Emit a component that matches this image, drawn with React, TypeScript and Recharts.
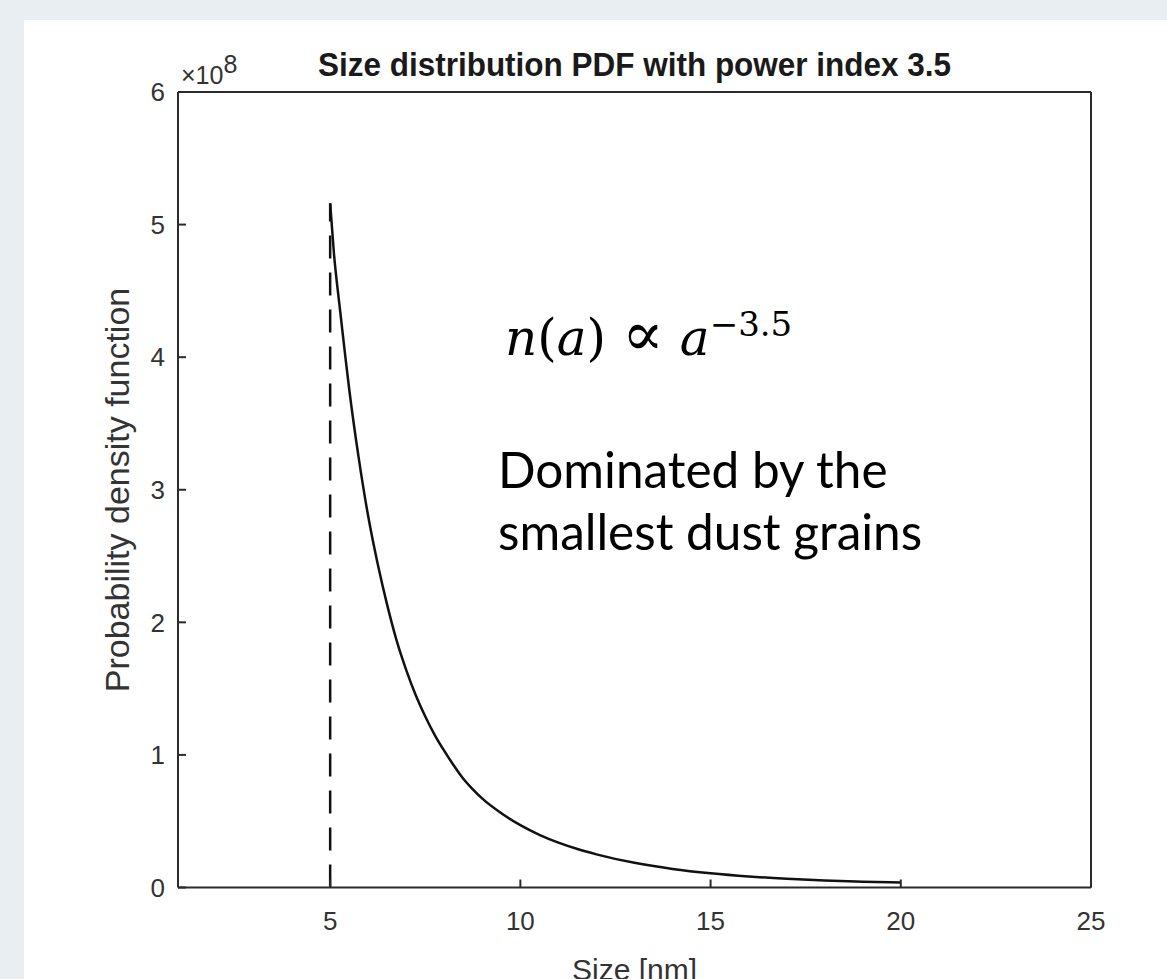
import { ComposedChart, Line, XAxis, YAxis, ReferenceLine } from "recharts";

// grain size [nm] and PDF value (in units of 1e8)
const sizes = [
  5, 5.1, 5.25, 5.4, 5.5, 5.75, 6, 6.25, 6.5, 6.75, 7, 7.25, 7.5, 7.75, 8, 8.25, 8.5, 8.75, 9, 9.5, 10, 10.5, 11, 11.5,
  12, 13, 14, 15, 16, 17, 18, 19, 20,
];
const pdf = [
  5.16, 4.78, 4.38, 4.0, 3.76, 3.24, 2.8, 2.44, 2.13, 1.86, 1.64, 1.45, 1.29, 1.15, 1.03, 0.92, 0.82, 0.74, 0.67, 0.56,
  0.47, 0.397, 0.338, 0.29, 0.25, 0.186, 0.14, 0.107, 0.083, 0.066, 0.053, 0.044, 0.037,
];

const xTicks = [5, 10, 15, 20, 25];
const yTicks = [0, 1, 2, 3, 4, 5, 6];
const xDomain = [1, 25];
const yDomain = [0, 6];
const lowerCutoff = 5;

const data = sizes.map((size, i) => ({ size, pdf: pdf[i] }));

const AXIS = "#2b2b2b";
const LABEL = "#333333";
const tickFont = { fill: LABEL, fontSize: 26, fontFamily: "Liberation Sans, Arial, sans-serif" };

export default function App() {
  return (
    <div
      style={{
        position: "absolute",
        left: 0,
        top: 0,
        width: 1167,
        height: 979,
        background: "#e8eef1",
        overflow: "hidden",
      }}
    >
      <div style={{ position: "absolute", left: 24, top: 20, width: 1143, height: 959, background: "#fff" }}>
        <ComposedChart width={1143} height={959} data={data} margin={{ top: 71, right: 75, bottom: 41.5, left: 94 }}>
          <XAxis
            dataKey="size"
            type="number"
            domain={xDomain}
            ticks={xTicks}
            allowDataOverflow
            height={50}
            tickSize={-8}
            tickMargin={32}
            stroke={AXIS}
            strokeWidth={2}
            tick={tickFont}
          />
          <XAxis
            xAxisId="top"
            orientation="top"
            type="number"
            domain={xDomain}
            ticks={xTicks}
            allowDataOverflow
            height={1}
            tickSize={-8}
            tick={false}
            stroke={AXIS}
            strokeWidth={2}
          />
          <YAxis
            type="number"
            domain={yDomain}
            ticks={yTicks}
            allowDataOverflow
            width={60}
            tickSize={-8}
            tickMargin={21}
            stroke={AXIS}
            strokeWidth={2}
            tick={tickFont}
          />
          <YAxis
            yAxisId="right"
            orientation="right"
            type="number"
            domain={yDomain}
            ticks={yTicks}
            allowDataOverflow
            width={1}
            tickSize={-8}
            tick={false}
            stroke={AXIS}
            strokeWidth={2}
          />
          <ReferenceLine
            segment={[
              { x: lowerCutoff, y: 0 },
              { x: lowerCutoff, y: pdf[0] },
            ]}
            stroke="#111"
            strokeWidth={2.5}
            strokeDasharray="23 14"
          />
          <Line
            dataKey="pdf"
            type="monotone"
            stroke="#111"
            strokeWidth={2.5}
            dot={false}
            activeDot={false}
            isAnimationActive={false}
          />
        </ComposedChart>
      </div>

      {/* titles and annotations, page coordinates */}
      <svg width={1167} height={979} style={{ position: "absolute", left: 0, top: 0, pointerEvents: "none" }}>
        <text
          x={318}
          y={76}
          textLength={633}
          lengthAdjust="spacingAndGlyphs"
          fontFamily="Liberation Sans, Arial, sans-serif"
          fontWeight="bold"
          fontSize={34}
          fill="#1a1a1a"
        >
          Size distribution PDF with power index 3.5
        </text>
        <text x={181} y={84} fontFamily="Liberation Sans, Arial, sans-serif" fontSize={25} fill={LABEL}>
          ×10
          <tspan dy={-11}>8</tspan>
        </text>
        <text
          transform="translate(129 490) rotate(-90)"
          textAnchor="middle"
          fontFamily="Liberation Sans, Arial, sans-serif"
          fontSize={34}
          fill={LABEL}
        >
          Probability density function
        </text>
        <text
          x={634.5}
          y={980}
          textAnchor="middle"
          fontFamily="Liberation Sans, Arial, sans-serif"
          fontSize={30}
          fill={LABEL}
        >
          Size [nm]
        </text>
        <text x={505} y={355} fontFamily="DejaVu Serif, serif" fontSize={50} fill="#000">
          <tspan fontStyle="italic">n</tspan>(<tspan fontStyle="italic">a</tspan>){" "}
          <tspan fontSize={62}>∝</tspan> <tspan fontStyle="italic">a</tspan>
          <tspan fontSize={34} dy={-19}>−3.5</tspan>
        </text>
        <text fontFamily="Lato, sans-serif" fontSize={49.5} fill="#000">
          <tspan x={498} y={488}>Dominated by the</tspan>
          <tspan x={498} y={550}>smallest dust grains</tspan>
        </text>
      </svg>
    </div>
  );
}
